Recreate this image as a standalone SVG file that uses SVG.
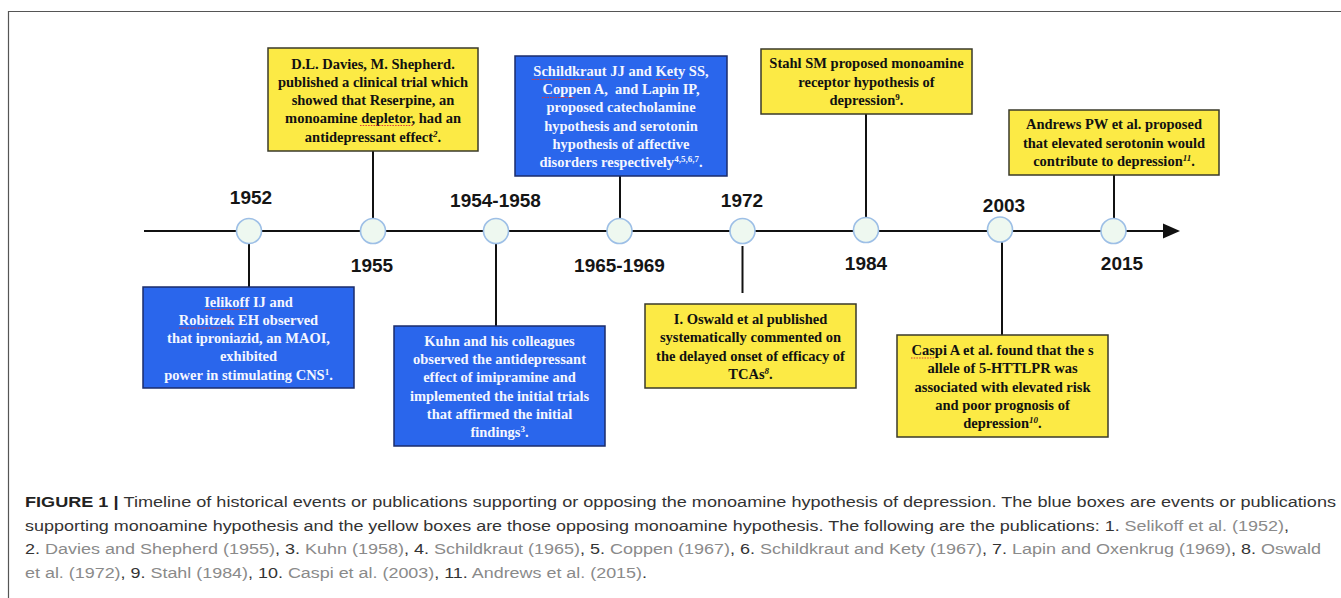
<svg xmlns="http://www.w3.org/2000/svg" width="1341" height="598" viewBox="0 0 1341 598">
<style>
.bb{fill:#2a66ec;stroke:#1b2d6b;stroke-width:1.5}
.by{fill:#fcea45;stroke:#3a3a2a;stroke-width:1.5}
.bt{font-family:"Liberation Serif","Times New Roman",serif;font-weight:bold;font-size:14.5px;text-anchor:middle}
.w{fill:#f4f6ff}
.k{fill:#111}
.yr{font-family:"Liberation Sans",Arial,sans-serif;font-weight:bold;font-size:19px;text-anchor:middle;fill:#151515}
.dot{fill:#eef8f0;stroke:#9dbfe6;stroke-width:1.6}
.conn{stroke:#111;stroke-width:2;fill:none}
.sq{stroke:#d83a3a;stroke-width:1.2;stroke-dasharray:1.5 1.2;fill:none}
.cap{font-family:"Liberation Sans",Arial,sans-serif;font-size:15.5px;fill:#333}
.g{fill:#8a8a8a}
.sup{font-size:9px}
</style>
<rect width="1341" height="598" fill="#fff"/>
<path d="M8.5 598 V11.5 H1341" fill="none" stroke="#555" stroke-width="1.2"/>

<g id="connectors">
<line class="conn" x1="144" y1="231" x2="1166" y2="231" stroke-width="2.5"/>
<polygon points="1163,223.5 1180,231 1163,238.5" fill="#111"/>
<line class="conn" x1="249" y1="244" x2="249" y2="287"/>
<line class="conn" x1="373" y1="151" x2="373" y2="218"/>
<line class="conn" x1="496" y1="244" x2="496" y2="326"/>
<line class="conn" x1="620" y1="176" x2="620" y2="218"/>
<line class="conn" x1="742.5" y1="246" x2="742.5" y2="293"/>
<line class="conn" x1="866" y1="114" x2="866" y2="218"/>
<line class="conn" x1="1002" y1="242" x2="1002" y2="335"/>
<line class="conn" x1="1114" y1="175" x2="1114" y2="218"/>
</g>

<g id="t1952"><circle class="dot" cx="249" cy="231" r="12.5"/><text class="yr" x="251" y="204">1952</text></g>
<g id="t1955"><circle class="dot" cx="373" cy="231" r="12.5"/><text class="yr" x="372" y="272">1955</text></g>
<g id="t1954"><circle class="dot" cx="496" cy="231" r="12.5"/><text class="yr" x="495.5" y="207">1954-1958</text></g>
<g id="t1965"><circle class="dot" cx="619.5" cy="231" r="12.5"/><text class="yr" x="619.5" y="272">1965-1969</text></g>
<g id="t1972"><circle class="dot" cx="742.5" cy="231" r="12.5"/><text class="yr" x="742" y="207">1972</text></g>
<g id="t1984"><circle class="dot" cx="866" cy="230" r="12.5"/><text class="yr" x="866" y="270">1984</text></g>
<g id="t2003"><circle class="dot" cx="1000" cy="229.5" r="12.5"/><text class="yr" x="1004" y="212">2003</text></g>
<g id="t2015"><circle class="dot" cx="1113.5" cy="231" r="12.5"/><text class="yr" x="1122" y="270">2015</text></g>

<g id="box-davies">
<rect class="by" x="268" y="48" width="210" height="103"/>
<text class="bt k" x="373" y="68.5">D.L. Davies, M. Shepherd.</text>
<text class="bt k" x="373" y="86.8">published a clinical trial which</text>
<text class="bt k" x="373" y="105">showed that Reserpine, an</text>
<text class="bt k" x="373" y="123.3">monoamine depletor, had an</text>
<text class="bt k" x="373" y="141.5">antidepressant effect<tspan class="sup" dy="-5" font-style="italic">2</tspan><tspan dy="5">.</tspan></text>
</g>

<g id="box-schildkraut">
<rect class="bb" x="515" y="56" width="212" height="120"/>
<text class="bt w" x="621" y="76">Schildkraut JJ and Kety SS,</text>
<text class="bt w" x="621" y="94.2">Coppen A,&#160; and Lapin IP,</text>
<text class="bt w" x="621" y="112.4">proposed catecholamine</text>
<text class="bt w" x="621" y="130.6">hypothesis and serotonin</text>
<text class="bt w" x="621" y="148.8">hypothesis of affective</text>
<text class="bt w" x="621" y="167">disorders respectively<tspan class="sup" dy="-5">4,5,6,7</tspan><tspan dy="5">.</tspan></text>
</g>

<g id="box-stahl">
<rect class="by" x="761" y="49" width="211" height="65"/>
<text class="bt k" x="866.5" y="68.3">Stahl SM proposed monoamine</text>
<text class="bt k" x="866.5" y="86.6">receptor hypothesis of</text>
<text class="bt k" x="866.5" y="105">depression<tspan class="sup" dy="-5">9</tspan><tspan dy="5">.</tspan></text>
</g>

<g id="box-andrews">
<rect class="by" x="1009" y="110" width="210" height="65"/>
<text class="bt k" x="1114" y="129.3">Andrews PW et al. proposed</text>
<text class="bt k" x="1114" y="147.6">that elevated serotonin would</text>
<text class="bt k" x="1114" y="165.8">contribute to depression<tspan class="sup" dy="-5" font-style="italic">11</tspan><tspan dy="5">.</tspan></text>
</g>

<g id="box-ielikoff">
<rect class="bb" x="143" y="287" width="211" height="101"/>
<text class="bt w" x="248.5" y="306.5">Ielikoff IJ and</text>
<text class="bt w" x="248.5" y="324.8">Robitzek EH observed</text>
<text class="bt w" x="248.5" y="343">that iproniazid, an MAOI,</text>
<text class="bt w" x="248.5" y="361.3">exhibited</text>
<text class="bt w" x="248.5" y="379.6">power in stimulating CNS<tspan class="sup" dy="-5">1</tspan><tspan dy="5">.</tspan></text>
</g>

<g id="box-kuhn">
<rect class="bb" x="394" y="326" width="211" height="120"/>
<text class="bt w" x="499.5" y="345.7">Kuhn and his colleagues</text>
<text class="bt w" x="499.5" y="364">observed the antidepressant</text>
<text class="bt w" x="499.5" y="382.3">effect of imipramine and</text>
<text class="bt w" x="499.5" y="400.6">implemented the initial trials</text>
<text class="bt w" x="499.5" y="418.9">that affirmed the initial</text>
<text class="bt w" x="499.5" y="437.2">findings<tspan class="sup" dy="-5">3</tspan><tspan dy="5">.</tspan></text>
</g>

<g id="box-oswald">
<rect class="by" x="645" y="304" width="211" height="84"/>
<text class="bt k" x="750.5" y="324">I. Oswald et al published</text>
<text class="bt k" x="750.5" y="342.3">systematically commented on</text>
<text class="bt k" x="750.5" y="360.6">the delayed onset of efficacy of</text>
<text class="bt k" x="750.5" y="378.9">TCAs<tspan class="sup" dy="-5" font-style="italic">8</tspan><tspan dy="5">.</tspan></text>
</g>

<g id="box-caspi">
<rect class="by" x="897" y="335" width="211" height="102"/>
<text class="bt k" x="1002.5" y="355">Caspi A et al. found that the s</text>
<text class="bt k" x="1002.5" y="373.3">allele of 5-HTTLPR was</text>
<text class="bt k" x="1002.5" y="391.6">associated with elevated risk</text>
<text class="bt k" x="1002.5" y="409.9">and poor prognosis of</text>
<text class="bt k" x="1002.5" y="428.2">depression<tspan class="sup" dy="-5" font-style="italic">10</tspan><tspan dy="5">.</tspan></text>
</g>

<g id="spell-marks">
<line class="sq" x1="205" y1="309.5" x2="248" y2="309.5"/>
<line class="sq" x1="179" y1="328" x2="234" y2="328"/>
<line class="sq" x1="360" y1="125.5" x2="413" y2="125.5"/>
<line class="sq" x1="532" y1="79.5" x2="594" y2="79.5"/>
<line class="sq" x1="656" y1="79.5" x2="676" y2="79.5"/>
<line class="sq" x1="542" y1="97.5" x2="575" y2="97.5"/>
<line class="sq" x1="911" y1="358" x2="935" y2="358"/>
</g>

<g id="caption">
<text class="cap" x="25" y="507" textLength="1311" lengthAdjust="spacingAndGlyphs"><tspan font-weight="bold" fill="#222">FIGURE 1 | </tspan>Timeline of historical events or publications supporting or opposing the monoamine hypothesis of depression. The blue boxes are events or publications</text>
<text class="cap" x="25" y="530.5" textLength="1264" lengthAdjust="spacingAndGlyphs">supporting monoamine hypothesis and the yellow boxes are those opposing monoamine hypothesis. The following are the publications: 1. <tspan class="g">Selikoff et al. (1952)</tspan>,</text>
<text class="cap" x="25" y="554" textLength="1296" lengthAdjust="spacingAndGlyphs">2. <tspan class="g">Davies and Shepherd (1955)</tspan>, 3. <tspan class="g">Kuhn (1958)</tspan>, 4. <tspan class="g">Schildkraut (1965)</tspan>, 5. <tspan class="g">Coppen (1967)</tspan>, 6. <tspan class="g">Schildkraut and Kety (1967)</tspan>, 7. <tspan class="g">Lapin and Oxenkrug (1969)</tspan>, 8. <tspan class="g">Oswald</tspan></text>
<text class="cap" x="25" y="577.5" textLength="622" lengthAdjust="spacingAndGlyphs"><tspan class="g">et al. (1972)</tspan>, 9. <tspan class="g">Stahl (1984)</tspan>, 10. <tspan class="g">Caspi et al. (2003)</tspan>, 11. <tspan class="g">Andrews et al. (2015)</tspan>.</text>
</g>
</svg>
